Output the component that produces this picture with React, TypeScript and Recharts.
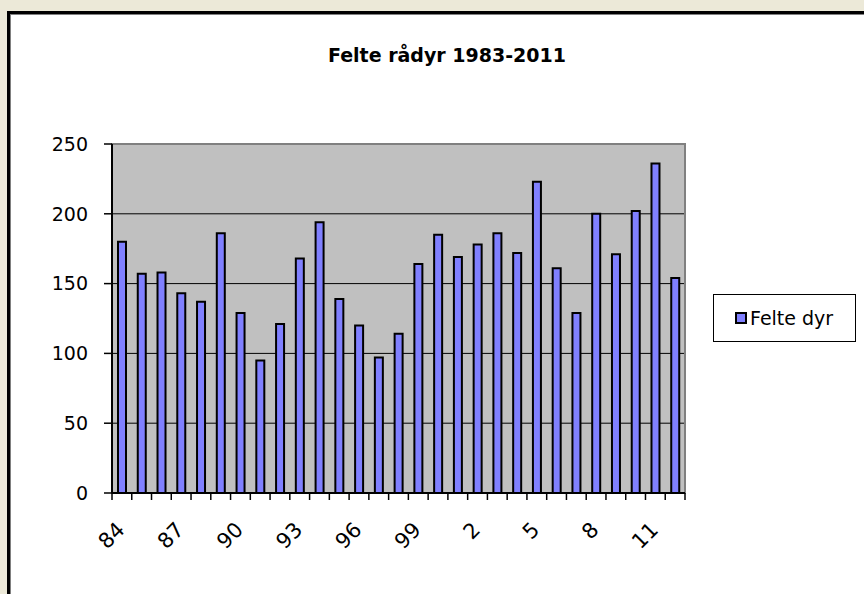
import React from 'react';
import { BarChart, Bar, XAxis, YAxis, CartesianGrid, Legend, ReferenceArea } from 'recharts';

const TITLE = 'Felte rådyr 1983-2011';
const SERIES_NAME = 'Felte dyr';
const YEARS = ['84','85','86','87','88','89','90','91','92','93','94','95','96','97','98','99','0','1','2','3','4','5','6','7','8','9','10','11','12'];
const VALUES = [180,157,158,143,137,186,129,95,121,168,194,139,120,97,114,164,185,169,178,186,172,223,161,129,200,171,202,236,154];
const SHOWN_TICKS = ['84','87','90','93','96','99','2','5','8','11'];
const Y_TICKS = [0, 50, 100, 150, 200, 250];

const data = YEARS.map((y, i) => ({ year: y, value: VALUES[i] }));

const W = 864;
const H = 594;
const PLOT_LEFT = 112;
const PLOT_RIGHT = 685;
const PLOT_TOP = 144;
const PLOT_BOTTOM = 493;
const BW = (PLOT_RIGHT - PLOT_LEFT) / YEARS.length;
const FONT = '"DejaVu Sans", sans-serif';

const XTick = (props: any) => {
  const { x, y, payload, index } = props;
  const show = SHOWN_TICKS.includes(payload.value);
  const lx = x + 4;
  const ly = y + 38;
  return (
    <g>
      <line x1={x - BW / 2} y1={y} x2={x - BW / 2} y2={y + 7} stroke="#000" strokeWidth={1.5} />
      {index === YEARS.length - 1 && (
        <line x1={x + BW / 2} y1={y} x2={x + BW / 2} y2={y + 7} stroke="#000" strokeWidth={1.5} />
      )}
      {show && (
        <text x={lx} y={ly} textAnchor="end" transform={`rotate(-45 ${lx} ${ly})`}
          fontFamily={FONT} fontSize={21} fill="#000">{payload.value}</text>
      )}
    </g>
  );
};

const LegendBox = (props: any) => {
  const items = props.payload || [];
  return (
    <div style={{ width: 141, height: 46, border: '1px solid #000', background: '#fff', display: 'flex', alignItems: 'center', boxSizing: 'content-box' }}>
      {items.map((it: any) => (
        <div key={it.value} style={{ display: 'flex', alignItems: 'center', marginLeft: 21 }}>
          <div style={{ width: 8, height: 8, background: '#8080FF', border: '2px solid #000', marginRight: 3 }} />
          <span style={{ fontFamily: FONT, fontSize: 19, color: '#000' }}>{it.value}</span>
        </div>
      ))}
    </div>
  );
};

export default function App() {
  return (
    <div style={{ position: 'fixed', left: 0, top: 0, width: W, height: H, background: '#ECE9D8', overflow: 'hidden' }}>
      <div style={{ position: 'absolute', left: 7, top: 11, width: 950, height: 700, borderLeft: '3px solid #000', borderTop: '3px solid #000', background: '#fff', boxShadow: 'inset 1px 1px 0 #808080' }} />
      <div style={{ position: 'absolute', left: 0, width: 894, top: 44, textAlign: 'center', fontFamily: FONT, fontWeight: 'bold', fontSize: 19, color: '#000' }}>{TITLE}</div>
      <div style={{ position: 'absolute', left: 0, top: 0 }}>
        <BarChart width={W} height={H} data={data}
          margin={{ top: PLOT_TOP, right: W - PLOT_RIGHT, bottom: 0, left: 0 }}>
          <CartesianGrid vertical={false} fill="#C0C0C0" stroke="#000" strokeWidth={1} fillOpacity={1} />
          <ReferenceArea y1={0} y2={250} fill="none" stroke="#808080" strokeWidth={2} ifOverflow="visible" />
          <XAxis dataKey="year" interval={0} height={H - PLOT_BOTTOM} tickSize={0} tickMargin={0}
            axisLine={{ stroke: '#000', strokeWidth: 2 }} tickLine={false} tick={<XTick />} />
          <YAxis domain={[0, 250]} ticks={Y_TICKS} width={PLOT_LEFT} tickSize={8} tickMargin={16}
            axisLine={{ stroke: '#000', strokeWidth: 2 }} tickLine={{ stroke: '#000', strokeWidth: 1.5 }}
            tick={{ fontFamily: FONT, fontSize: 19, fill: '#000' }} />
          <Legend layout="vertical" align="center" verticalAlign="middle"
            wrapperStyle={{ left: 713, top: 294, width: 143, height: 48 }} content={<LegendBox />} />
          <Bar dataKey="value" name={SERIES_NAME} fill="#8080FF" stroke="#000" strokeWidth={2} barSize={8} isAnimationActive={false} />
        </BarChart>
      </div>
    </div>
  );
}
